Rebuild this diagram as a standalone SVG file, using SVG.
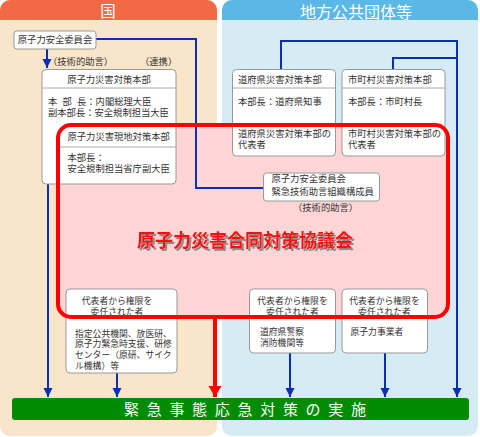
<svg xmlns="http://www.w3.org/2000/svg" width="480" height="437" viewBox="0 0 480 437">
<style>
text{font-family:"Noto Sans CJK JP","Noto Sans CJK SC",sans-serif;fill:#333}
.t{font-size:9.3px}
.s{font-size:8.8px}
.box{fill:#fff;stroke:#999;stroke-width:1}
.div{stroke:#aaa;stroke-width:1}
.blue{fill:none;stroke:#0a2fb0;stroke-width:2}
.hdr{font-size:15.5px;fill:#fff;text-anchor:middle}
</style>
<defs>
<marker id="ab" markerUnits="userSpaceOnUse" markerWidth="10" markerHeight="10" refX="9" refY="5" orient="auto">
<path d="M0,0.5 L9,5 L0,9.5 z" fill="#0a2fb0"/>
</marker>
<marker id="ar" markerUnits="userSpaceOnUse" markerWidth="12" markerHeight="14" refX="11" refY="7" orient="auto">
<path d="M0,0.5 L11,7 L0,13.5 z" fill="#ff0000"/>
</marker>
<filter id="sh" x="-5%" y="-20%" width="110%" height="140%">
<feDropShadow dx="2" dy="2" stdDeviation="0.6" flood-color="#8a8a8a" flood-opacity="1"/>
</filter>
</defs>

<g id="panel-kuni">
<rect x="0" y="0" width="217" height="436" rx="10" fill="#f9e5c9"/>
<path d="M0,20 V10 A10,10 0 0 1 10,0 H207 A10,10 0 0 1 217,10 V20 Z" fill="#f26a45"/>
<text class="hdr" x="108" y="17">国</text>
</g>
<g id="panel-chiho">
<rect x="222" y="0" width="256" height="436" rx="10" fill="#d5ecf4"/>
<path d="M222,20 V10 A10,10 0 0 1 232,0 H468 A10,10 0 0 1 478,10 V20 Z" fill="#5bb8e6"/>
<text class="hdr" x="356" y="17.5" style="font-size:16px">地方公共団体等</text>
</g>

<g id="council-bg">
<rect x="58" y="125" width="390" height="192" rx="13" fill="#ffd5d5"/>
</g>

<g id="connectors">
<path class="blue" d="M47,49 V68" marker-end="url(#ab)"/>
<path class="blue" d="M96,39 H196 V188 H263"/>
<path class="blue" d="M48,184 V397" marker-end="url(#ab)"/>
<path class="blue" d="M117,373 V397" marker-end="url(#ab)"/>
<path class="blue" d="M281,69 V41 H457 V397" marker-end="url(#ab)"/>
<path class="blue" d="M393,69 V58 H457"/>
<path class="blue" d="M290,353 V397" marker-end="url(#ab)"/>
<path class="blue" d="M385,353 V397" marker-end="url(#ab)"/>
<path d="M215,317 V397" fill="none" stroke="#ff0000" stroke-width="4" marker-end="url(#ar)"/>
<text class="t" x="48" y="64.5">（技術的助言）</text>
<text class="t" x="140" y="64.5">（連携）</text>
<text class="t" x="293" y="210.5">（技術的助言）</text>
</g>

<g id="n-nsc">
<rect class="box" x="14" y="31" width="82" height="18" rx="3"/>
<text class="t" x="55" y="43.3" text-anchor="middle">原子力安全委員会</text>
</g>

<g id="n-hq">
<rect class="box" x="42" y="69.5" width="134" height="114.5" rx="4"/>
<line class="div" x1="42" y1="88" x2="176" y2="88"/>
<line class="div" x1="58" y1="147" x2="176" y2="147"/>
<text class="t" x="109" y="83.3" text-anchor="middle">原子力災害対策本部</text>
<text class="t" x="48 62.5 77" y="104.5">本部長：内閣総理大臣</text>
<text class="t" x="48" y="115.5">副本部長：安全規制担当大臣</text>
<text class="t" x="67.5" y="140">原子力災害現地対策本部</text>
<text class="t" x="67.5" y="161">本部長：</text>
<text class="t" x="67.5" y="172">安全規制担当省庁副大臣</text>
</g>

<g id="n-pref">
<rect class="box" x="232.5" y="69.5" width="103" height="86.5" rx="4"/>
<line class="div" x1="232.5" y1="88" x2="335.5" y2="88"/>
<text class="t" x="238" y="83.3">道府県災害対策本部</text>
<text class="t" x="238" y="104.5">本部長：道府県知事</text>
<text class="t" x="238" y="136.5">道府県災害対策本部の</text>
<text class="t" x="238" y="147.5">代表者</text>
</g>

<g id="n-muni">
<rect class="box" x="342" y="69.5" width="103" height="86.5" rx="4"/>
<line class="div" x1="342" y1="88" x2="445" y2="88"/>
<text class="t" x="348" y="83.3">市町村災害対策本部</text>
<text class="t" x="348" y="104.5">本部長：市町村長</text>
<text class="t" x="348" y="136.5">市町村災害対策本部の</text>
<text class="t" x="348" y="147.5">代表者</text>
</g>

<g id="n-nsc-expert">
<rect class="box" x="263.5" y="173" width="116" height="28" rx="3"/>
<text class="t" x="271.5" y="182">原子力安全委員会</text>
<text class="t" x="271.5" y="195">緊急技術助言組織構成員</text>
</g>

<g id="n-rep-national">
<rect class="box" x="66" y="289" width="111" height="84" rx="4"/>
<text class="s" x="117" y="304" text-anchor="middle">代表者から権限を</text>
<text class="s" x="117" y="314.7" text-anchor="middle">委任された者</text>
<text class="s" x="75" y="336.5">指定公共機関、放医研、</text>
<text class="s" x="75" y="347.2">原子力緊急時支援、研修</text>
<text class="s" x="75" y="357.9">センター（原研、サイク</text>
<text class="s" x="75" y="368.6">ル機構）等</text>
</g>

<g id="n-rep-pref">
<rect class="box" x="249.5" y="289" width="86" height="64" rx="4"/>
<text class="s" x="292.5" y="304" text-anchor="middle">代表者から権限を</text>
<text class="s" x="292.5" y="314.7" text-anchor="middle">委任された者</text>
<text class="s" x="260" y="335">道府県警察</text>
<text class="s" x="260" y="345.7">消防機関等</text>
</g>

<g id="n-rep-operator">
<rect class="box" x="342" y="289" width="85.5" height="64" rx="4"/>
<text class="s" x="384.5" y="304" text-anchor="middle">代表者から権限を</text>
<text class="s" x="384.5" y="314.7" text-anchor="middle">委任された者</text>
<text class="s" x="350.5" y="335">原子力事業者</text>
</g>

<g id="n-council">
<rect x="58" y="125" width="390" height="192" rx="13" fill="none" stroke="#ff0000" stroke-width="4"/>
<text x="245" y="246.5" text-anchor="middle" filter="url(#sh)" style="font-size:18px;font-weight:bold;fill:#ff1010">原子力災害合同対策協議会</text>
</g>

<g id="n-implementation">
<rect x="12" y="398" width="457" height="22" rx="3" fill="#008c00"/>
<text x="124" y="414.5" style="font-size:15px;fill:#fff;letter-spacing:7.7px">緊急事態応急対策の実施</text>
</g>
</svg>
